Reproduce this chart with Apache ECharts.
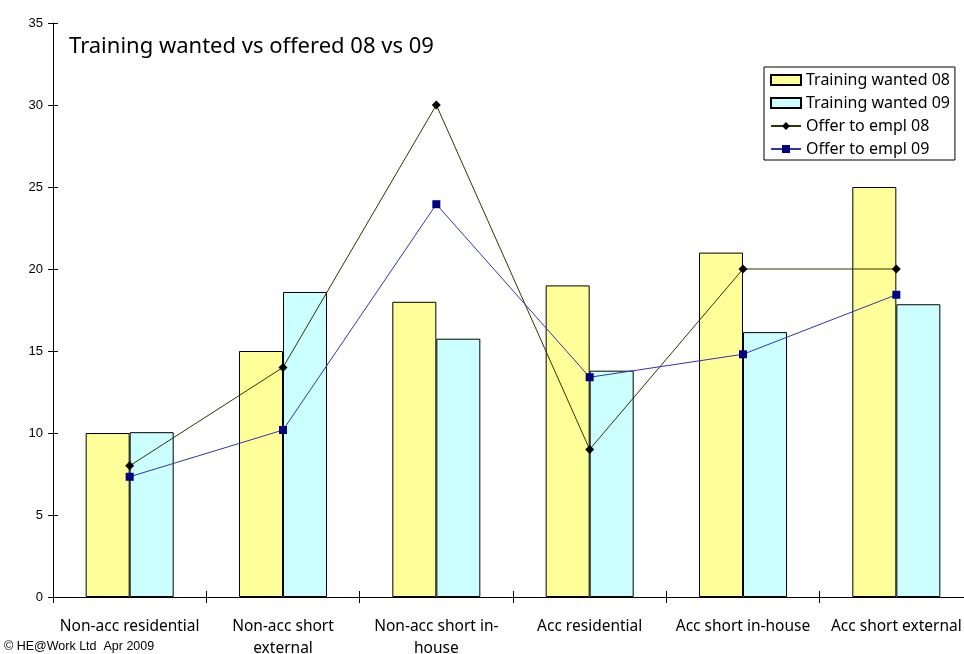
<!DOCTYPE html>
<html>
<head>
<meta charset="utf-8">
<script src="https://cdn.jsdelivr.net/npm/echarts@6/dist/echarts.min.js"></script>
<style>html,body{margin:0;padding:0;background:#fff}#c{width:964px;height:654px}</style>
</head>
<body>
<div id="c"></div>
<script>
var categories = ['Non-acc residential', 'Non-acc short\nexternal', 'Non-acc short in-\nhouse', 'Acc residential', 'Acc short in-house', 'Acc short external'];
var wanted08 = [10, 15, 18, 19, 21, 25];
var wanted09 = [10.05, 18.6, 15.75, 13.8, 16.15, 17.85];
var offer08 = [8, 14, 30, 9, 20, 20];
var offer09 = [7.33, 10.18, 23.95, 13.4, 14.8, 18.43];
var yMin = 0, yMax = 35, yStep = 5;

var font = '"Liberation Sans", Arial, sans-serif';
var font2 = '"Noto Sans", "Open Sans", sans-serif';
var chart = echarts.init(document.getElementById('c'));
chart.setOption({
  animation: false,
  textStyle: { fontFamily: font },
  title: {
    text: 'Training wanted vs offered 08 vs 09',
    left: 64, top: 31,
    textStyle: { fontFamily: font2, fontSize: 22, fontWeight: 'normal', color: '#000' }
  },
  legend: {
    orient: 'vertical',
    left: 764, top: 67,
    padding: [5, 5, 3, 6],
    borderColor: '#000', borderWidth: 1,
    itemWidth: 30, itemHeight: 10, itemGap: 7,
    textStyle: { fontFamily: font2, fontSize: 16, color: '#000' },
    data: [
      { name: 'Training wanted 08', icon: 'rect' },
      { name: 'Training wanted 09', icon: 'rect' },
      { name: 'Offer to empl 08' },
      { name: 'Offer to empl 09' }
    ]
  },
  grid: { left: 53, right: -9, top: 23, bottom: 57, outerBoundsMode: 'none', containLabel: false },
  xAxis: [{
    type: 'category', data: categories, boundaryGap: true,
    axisLine: { lineStyle: { color: '#000', width: 1 } },
    axisTick: { show: true, length: 6, lineStyle: { color: '#000' } },
    axisLabel: { color: '#000', fontSize: 15.5, fontFamily: font2, margin: 19, lineHeight: 22, interval: 0 }
  }, {
    type: 'category', data: categories, boundaryGap: true, position: 'bottom',
    axisLine: { show: false },
    axisTick: { show: true, inside: true, length: 6, lineStyle: { color: '#000' } },
    axisLabel: { show: false }
  }],
  yAxis: [{
    type: 'value', min: yMin, max: yMax, interval: yStep,
    axisLine: { show: true, lineStyle: { color: '#000', width: 1 } },
    axisTick: { show: true, length: 5, lineStyle: { color: '#000' } },
    axisLabel: { color: '#000', fontSize: 13, fontFamily: font, margin: 10 },
    splitLine: { show: false }
  }, {
    type: 'value', min: yMin, max: yMax, interval: yStep, position: 'left',
    axisLine: { show: false },
    axisTick: { show: true, inside: true, length: 5, lineStyle: { color: '#000' } },
    axisLabel: { show: false },
    splitLine: { show: false }
  }],
  series: [{
    name: 'Training wanted 08', type: 'bar', data: wanted08,
    barGap: '0%', barCategoryGap: '42.6%',
    itemStyle: { color: '#FFFF99', borderColor: '#000', borderWidth: 1 }
  }, {
    name: 'Training wanted 09', type: 'bar', data: wanted09,
    barGap: '0%', barCategoryGap: '42.6%',
    itemStyle: { color: '#CCFFFF', borderColor: '#000', borderWidth: 1 }
  }, {
    name: 'Offer to empl 08', type: 'line', data: offer08, z: 5,
    symbol: 'diamond', symbolSize: 9,
    lineStyle: { color: '#333300', width: 1 },
    itemStyle: { color: '#000' }
  }, {
    name: 'Offer to empl 09', type: 'line', data: offer09, z: 6,
    symbol: 'rect', symbolSize: 8,
    lineStyle: { color: '#3333AA', width: 1 },
    itemStyle: { color: '#000080' }
  }],
  graphic: [{
    type: 'text', left: 4, top: 640,
    style: { text: '© HE@Work Ltd  Apr 2009', fontFamily: font, fontSize: 12.5, fill: '#000' }
  }]
});
</script>
</body>
</html>
